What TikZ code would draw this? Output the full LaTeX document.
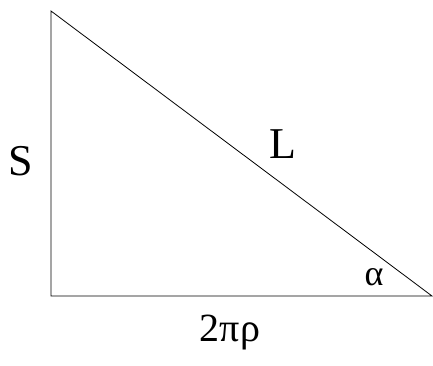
\documentclass[tikz,border=0pt]{standalone}
\usepackage{fontspec}
\setmainfont{Liberation Serif}
\begin{document}
\begin{tikzpicture}[x=1pt,y=-1pt,line width=0.8pt]
  \tikzstyle{lbl}=[inner sep=0pt,font=\fontsize{44}{46}\selectfont]
  \useasboundingbox (0,0) rectangle (433,365);
  \coordinate (top) at (51,11);
  \coordinate (corner) at (51,296);
  \coordinate (tip) at (432,296);
  \draw (top) -- (corner) -- (tip) -- cycle;
  \node[lbl] (s) at (21,161) {S};
  \node[lbl] (l) at (283,144) {L};
  \node[lbl,font=\fontsize{36}{38}\selectfont] (alpha) at (374,277) {α};
  \node[lbl,font=\fontsize{40}{42}\selectfont] (circ) at (230,333) {2πρ};
\end{tikzpicture}
\end{document}
